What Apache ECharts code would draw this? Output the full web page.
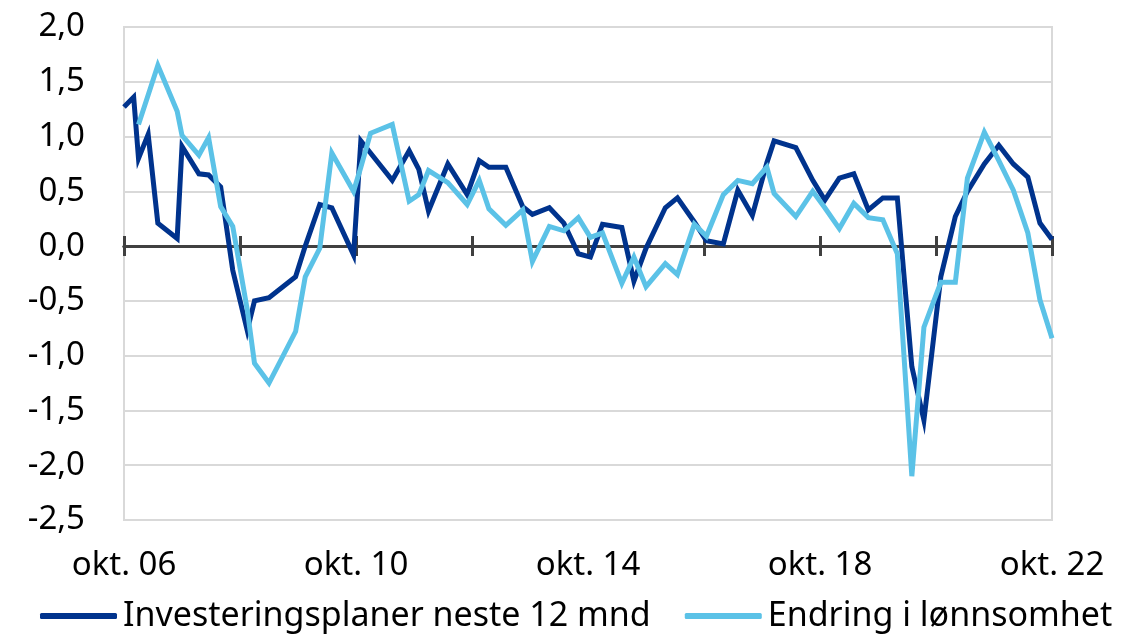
<!DOCTYPE html>
<html>
<head>
<meta charset="utf-8">
<script src="https://cdn.jsdelivr.net/npm/echarts@6/dist/echarts.min.js"></script>
<style>
  html, body { margin: 0; padding: 0; background: #fff; }
  #chart { width: 1144px; height: 635px; }
</style>
</head>
<body>
<div id="chart"></div>
<script>
// Months after okt. 06 for each survey round
const months = [0, 2, 3, 5, 7, 11, 12, 15.5, 17.5, 20, 22.5, 25.5, 27, 30, 35.5, 37.5, 40.5, 43, 47.5, 49,
  51, 55.5, 59, 61, 63, 67, 71, 73.5, 75.5, 79, 82.5, 84.5, 88, 91, 94, 96.5, 99, 103, 105.5, 108,
  112, 114.5, 118, 120.5, 124, 127, 130, 133, 134.5, 139, 142.5, 145, 148, 151, 154, 157, 160, 163,
  165.5, 169, 172, 174.5, 178, 181, 184, 187, 189.5, 192];

const investering = [1.27, 1.36, 0.80, 1.02, 0.21, 0.07, 0.91, 0.66, 0.65, 0.54, -0.22, -0.77, -0.50, -0.47, -0.28, 0.00, 0.38, 0.35, -0.08, 0.96,
  0.85, 0.60, 0.87, 0.70, 0.32, 0.75, 0.47, 0.78, 0.72, 0.72, 0.36, 0.29, 0.35, 0.21, -0.07, -0.10, 0.20, 0.17, -0.32, -0.02,
  0.35, 0.44, 0.22, 0.05, 0.02, 0.51, 0.28, 0.76, 0.96, 0.90, 0.60, 0.42, 0.62, 0.66, 0.33, 0.44, 0.44, -1.10,
  -1.59, -0.28, 0.27, 0.50, 0.75, 0.92, 0.75, 0.63, 0.21, 0.06];

const lonnsomhet = [null, null, 1.11, 1.38, 1.65, 1.23, 1.01, 0.83, 0.99, 0.36, 0.18, -0.58, -1.07, -1.25, -0.78, -0.28, -0.02, 0.85, 0.50, 0.72,
  1.03, 1.11, 0.41, 0.47, 0.69, 0.58, 0.38, 0.60, 0.34, 0.19, 0.33, -0.14, 0.18, 0.14, 0.26, 0.08, 0.12, -0.34, -0.10, -0.37,
  -0.16, -0.26, 0.20, 0.09, 0.47, 0.60, 0.57, 0.72, 0.48, 0.27, 0.50, 0.35, 0.16, 0.39, 0.26, 0.24, -0.07, -2.10,
  -0.74, -0.33, -0.33, 0.62, 1.04, 0.78, 0.51, 0.12, -0.49, -0.84];

const xTickLabels = ['okt. 06', 'okt. 10', 'okt. 14', 'okt. 18', 'okt. 22'];
const seriesNames = ['Investeringsplaner neste 12 mnd', 'Endring i lønnsomhet'];

const FONT = 'Noto Sans';
const pairs = vals => months.map((m, i) => [m, vals[i]]);

const baseX = {
  type: 'value', min: 0, max: 192, interval: 24,
  splitLine: { show: false }
};
const baseY = { type: 'value', min: -2.5, max: 2, interval: 0.5 };

const chart = echarts.init(document.getElementById('chart'), null, { renderer: 'canvas' });
chart.setOption({
  animation: false,
  backgroundColor: '#ffffff',
  grid: {
    left: 124, right: 92, top: 27, bottom: 115,
    show: true, borderColor: '#d9d9d9', borderWidth: 2, backgroundColor: 'transparent'
  },
  legend: {
    left: 35, top: 594,
    icon: 'roundRect', itemWidth: 77, itemHeight: 6, itemGap: 34,
    textStyle: { fontFamily: FONT, fontSize: 34, color: '#000', padding: [0, 0, 0, 1] },
    data: seriesNames
  },
  xAxis: [
    Object.assign({}, baseX, {
      position: 'bottom',
      axisLine: { show: true, onZero: true, onZeroAxisIndex: 0, lineStyle: { color: '#404040', width: 3 } },
      axisTick: { show: true, length: 10, lineStyle: { color: '#404040', width: 3 } },
      axisLabel: { show: false }
    }),
    Object.assign({}, baseX, {
      position: 'bottom',
      axisLine: { show: true, onZero: true, onZeroAxisIndex: 1, lineStyle: { color: '#404040', width: 3 } },
      axisTick: { show: true, inside: true, length: 10, lineStyle: { color: '#404040', width: 3 } },
      axisLabel: { show: false }
    }),
    Object.assign({}, baseX, {
      position: 'bottom',
      axisLine: { show: false, onZero: false },
      axisTick: { show: false },
      axisLabel: {
        show: true, margin: 29, showMinLabel: true, showMaxLabel: true,
        fontFamily: FONT, fontSize: 33, color: '#000',
        formatter: v => (v % 48 === 0 ? xTickLabels[v / 48] : '')
      }
    })
  ],
  yAxis: [
    Object.assign({}, baseY, {
      axisLine: { show: false },
      axisTick: { show: false },
      splitLine: { show: true, lineStyle: { color: '#d9d9d9', width: 2 } },
      axisLabel: {
        margin: 39, fontFamily: FONT, fontSize: 33, color: '#000',
        formatter: v => v.toFixed(1).replace('.', ',')
      }
    }),
    Object.assign({}, baseY, {
      position: 'left',
      axisLine: { show: false },
      axisTick: { show: false },
      splitLine: { show: false },
      axisLabel: { show: false }
    })
  ],
  series: [
    {
      name: seriesNames[0], type: 'line', xAxisIndex: 0, yAxisIndex: 0,
      data: pairs(investering), showSymbol: false, symbol: 'none',
      connectNulls: false,
      lineStyle: { color: '#00338d', width: 5, join: 'miter' },
      itemStyle: { color: '#00338d' }, z: 3
    },
    {
      name: seriesNames[1], type: 'line', xAxisIndex: 0, yAxisIndex: 0,
      data: pairs(lonnsomhet), showSymbol: false, symbol: 'none',
      connectNulls: false,
      lineStyle: { color: '#5bc2e7', width: 5, join: 'miter' },
      itemStyle: { color: '#5bc2e7' }, z: 4
    }
  ]
});
</script>
</body>
</html>
